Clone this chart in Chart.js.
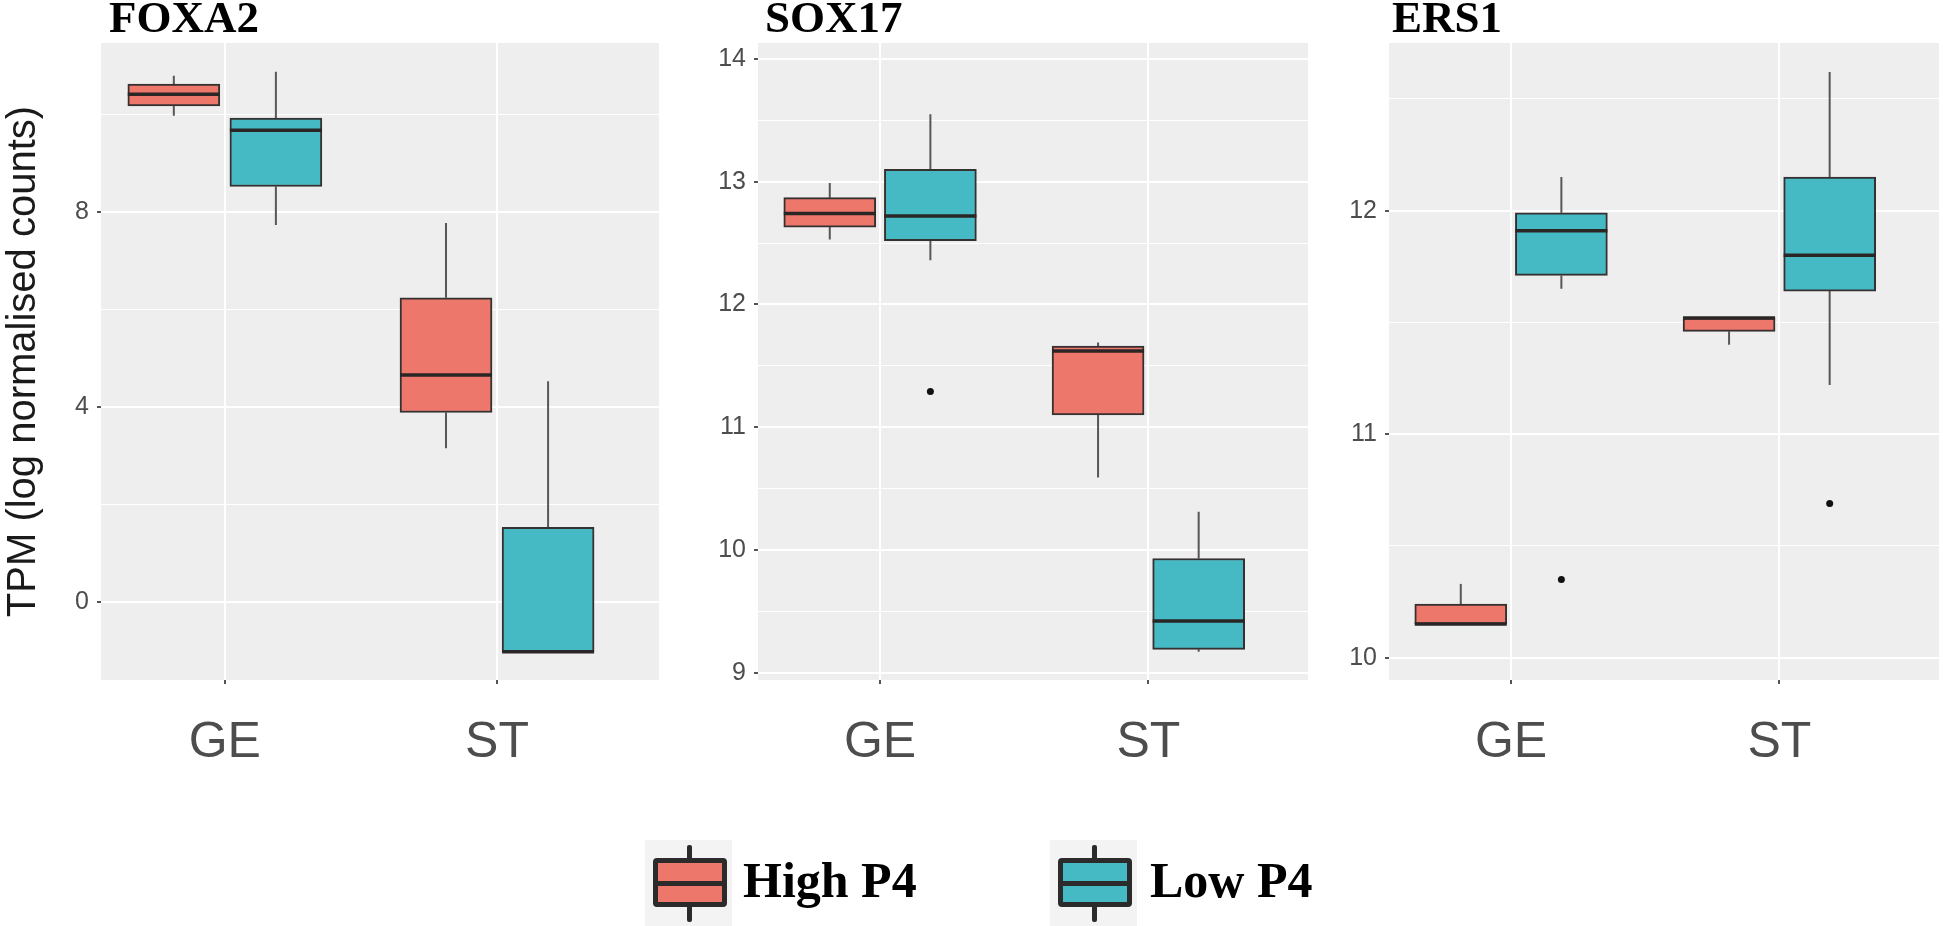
<!DOCTYPE html>
<html>
<head>
<title>FOXA2, SOX17 and ERS1 expression by P4 level</title>
<script src="https://cdn.jsdelivr.net/npm/chart.js@4.4.0/dist/chart.umd.min.js"></script>
<style>
  body { margin: 0; background: #fff; width: 1943px; height: 926px; position: relative; overflow: hidden; }
  .panel { position: absolute; top: 0; height: 800px; }
  .gene { position: absolute; top: -5px; font: bold 45px 'Liberation Serif', 'Times New Roman', serif; line-height: 45px; color: #000; }
  .key { position: absolute; top: 840px; width: 87px; height: 86px; background: #f3f3f3; }
  .key .whisker { position: absolute; left: 42px; top: 5px; width: 5px; height: 77px; background: #2b2b2b; border-radius: 2px; }
  .key .box { position: absolute; left: 8px; top: 18px; width: 64px; height: 39px; border: 5px solid #2b2b2b; border-radius: 4px; }
  .key .med { position: absolute; left: 8px; top: 41px; width: 74px; height: 5px; background: #2b2b2b; }
  .keytext { position: absolute; top: 855px; font: bold 50px 'Liberation Serif', 'Times New Roman', serif; line-height: 50px; color: #000; }
</style>
</head>
<body>
  <div class="panel" style="left:0;width:680px"><canvas id="foxa2"></canvas></div>
  <div class="panel" style="left:660px;width:670px"><canvas id="sox17"></canvas></div>
  <div class="panel" style="left:1310px;width:633px"><canvas id="ers1"></canvas></div>

  <div class="gene" style="left:109px">FOXA2</div>
  <div class="gene" style="left:765px">SOX17</div>
  <div class="gene" style="left:1392px">ERS1</div>

  <div class="key" style="left:645px"><div class="whisker"></div><div class="box" style="background:#ee776c"></div><div class="med"></div></div>
  <div class="keytext" style="left:743px">High P4</div>
  <div class="key" style="left:1050px"><div class="whisker"></div><div class="box" style="background:#46bac4"></div><div class="med"></div></div>
  <div class="keytext" style="left:1150px">Low P4</div>

<script>
// x categories and groups
const categories = ['GE', 'ST'];
const groups = ['High P4', 'Low P4'];

// one entry per category: [lower whisker, Q1, median, Q3, upper whisker]
const foxa2High = [[9.97, 10.17, 10.41, 10.62, 10.79], [3.16, 3.89, 4.66, 6.24, 7.77]];
const foxa2Low = [[7.73, 8.52, 9.67, 9.92, 10.87], [-1.01, -1.01, -1.01, 1.54, 4.53]];
const sox17High = [[12.53, 12.63, 12.74, 12.87, 12.99], [10.59, 11.10, 11.62, 11.66, 11.69]];
const sox17Low = [[12.36, 12.52, 12.72, 13.10, 13.55], [9.17, 9.19, 9.42, 9.93, 10.31]];
const ers1High = [[10.15, 10.15, 10.15, 10.24, 10.33], [11.40, 11.46, 11.52, 11.52, 11.52]];
const ers1Low = [[11.65, 11.71, 11.91, 11.99, 12.15], [11.22, 11.64, 11.80, 12.15, 12.62]];

// outlying points per category
const foxa2HighOut = [[], []];
const foxa2LowOut = [[], []];
const sox17HighOut = [[], []];
const sox17LowOut = [[11.29], []];
const ers1HighOut = [[], []];
const ers1LowOut = [[10.35], [10.69]];

// y axis: labelled ticks, minor grid lines, limits
const foxa2Ticks = [0, 4, 8];
const foxa2Minor = [2, 6, 10];
const foxa2Limits = [-1.59, 11.46];
const sox17Ticks = [9, 10, 11, 12, 13, 14];
const sox17Minor = [9.5, 10.5, 11.5, 12.5, 13.5];
const sox17Limits = [8.94, 14.13];
const ers1Ticks = [10, 11, 12];
const ers1Minor = [10.5, 11.5, 12.5];
const ers1Limits = [9.90, 12.75];

const fills = ['#ee776c', '#46bac4'];
const dodge = 0.1875;
const textGrey = '#4d4d4d';

Chart.defaults.font.family = "'Liberation Sans', Arial, sans-serif";

function boxData(stats, side) {
  return stats.map((s, i) => ({ x: i + 1 + side * dodge, y: [s[1], s[3]] }));
}

function outlierData(out, side) {
  const pts = [];
  out.forEach((vals, i) => vals.forEach(v => pts.push({ x: i + 1 + side * dodge, y: v })));
  return pts;
}

// whiskers under the boxes, medians on top, panel background first
const boxplotLines = {
  id: 'boxplotLines',
  beforeDraw(chart) {
    const a = chart.chartArea, ctx = chart.ctx;
    ctx.save();
    ctx.fillStyle = '#efeeee';
    ctx.fillRect(a.left, a.top, a.right - a.left, a.bottom - a.top);
    ctx.restore();
  },
  beforeDatasetsDraw(chart) {
    const y = chart.scales.y, ctx = chart.ctx;
    ctx.save();
    ctx.strokeStyle = '#5a5656';
    ctx.lineWidth = 2;
    chart.data.datasets.forEach((ds, d) => {
      if (!ds.stats) return;
      chart.getDatasetMeta(d).data.forEach((el, i) => {
        const s = ds.stats[i];
        ctx.beginPath();
        ctx.moveTo(el.x, y.getPixelForValue(s[0]));
        ctx.lineTo(el.x, y.getPixelForValue(s[1]));
        ctx.moveTo(el.x, y.getPixelForValue(s[3]));
        ctx.lineTo(el.x, y.getPixelForValue(s[4]));
        ctx.stroke();
      });
    });
    ctx.restore();
  },
  afterDatasetsDraw(chart) {
    const y = chart.scales.y, ctx = chart.ctx;
    ctx.save();
    ctx.strokeStyle = '#2a2626';
    ctx.lineWidth = 3.5;
    chart.data.datasets.forEach((ds, d) => {
      if (!ds.stats) return;
      chart.getDatasetMeta(d).data.forEach((el, i) => {
        const py = y.getPixelForValue(ds.stats[i][2]);
        ctx.beginPath();
        ctx.moveTo(el.x - el.width / 2, py);
        ctx.lineTo(el.x + el.width / 2, py);
        ctx.stroke();
      });
    });
    ctx.restore();
  }
};

function makePanel(id, high, low, highOut, lowOut, major, minor, limits, axisWidth, rightPad, yTitle) {
  const isMajor = v => major.includes(v);
  const datasets = [high, low].map((stats, g) => ({
    type: 'bar',
    label: groups[g],
    data: boxData(stats, g === 0 ? -1 : 1),
    stats: stats,
    grouped: false,
    barThickness: 92,
    backgroundColor: fills[g],
    borderColor: '#353131',
    borderWidth: 2,
    borderSkipped: false
  }));
  [highOut, lowOut].forEach((out, g) => datasets.push({
    type: 'scatter',
    label: groups[g] + ' outliers',
    data: outlierData(out, g === 0 ? -1 : 1),
    pointRadius: 3.5,
    pointBackgroundColor: '#111',
    pointBorderWidth: 0
  }));

  new Chart(document.getElementById(id), {
    type: 'bar',
    data: { datasets },
    options: {
      responsive: true,
      maintainAspectRatio: false,
      animation: false,
      events: [],
      layout: { padding: { top: 43, right: rightPad, left: 0, bottom: 0 } },
      plugins: { legend: { display: false }, tooltip: { enabled: false } },
      scales: {
        x: {
          type: 'linear',
          offset: false,
          min: 0.545,
          max: 2.595,
          afterBuildTicks: ax => { ax.ticks = categories.map((c, i) => ({ value: i + 1 })); },
          afterFit: ax => { ax.height = 120; },
          ticks: {
            callback: (v, i) => categories[i],
            autoSkip: false,
            maxRotation: 0,
            color: textGrey,
            padding: 29,
            font: { size: 50 }
          },
          grid: { offset: false, color: '#ffffff', lineWidth: 2, tickLength: 4, tickColor: '#555', tickWidth: 2 },
          border: { display: false }
        },
        y: {
          min: limits[0],
          max: limits[1],
          afterBuildTicks: ax => {
            ax.ticks = major.concat(minor).sort((a, b) => a - b).map(v => ({ value: v }));
          },
          afterFit: ax => { ax.width = axisWidth; },
          ticks: {
            callback: v => isMajor(v) ? String(v) : '',
            autoSkip: false,
            color: textGrey,
            padding: 8,
            font: { size: 25 }
          },
          grid: {
            color: '#ffffff',
            lineWidth: c => isMajor(c.tick.value) ? 2 : 1,
            tickLength: 4,
            tickWidth: 2,
            tickColor: c => isMajor(c.tick.value) ? '#555' : 'rgba(0,0,0,0)'
          },
          border: { display: false },
          title: {
            display: !!yTitle,
            text: yTitle || '',
            color: '#1a1a1a',
            padding: 0,
            font: { size: 40 }
          }
        }
      }
    },
    plugins: [boxplotLines]
  });
}

makePanel('foxa2', foxa2High, foxa2Low, foxa2HighOut, foxa2LowOut, foxa2Ticks, foxa2Minor, foxa2Limits, 101, 21, 'TPM (log normalised counts)');
makePanel('sox17', sox17High, sox17Low, sox17HighOut, sox17LowOut, sox17Ticks, sox17Minor, sox17Limits, 98, 22);
makePanel('ers1', ers1High, ers1Low, ers1HighOut, ers1LowOut, ers1Ticks, ers1Minor, ers1Limits, 79, 1);
</script>
</body>
</html>
